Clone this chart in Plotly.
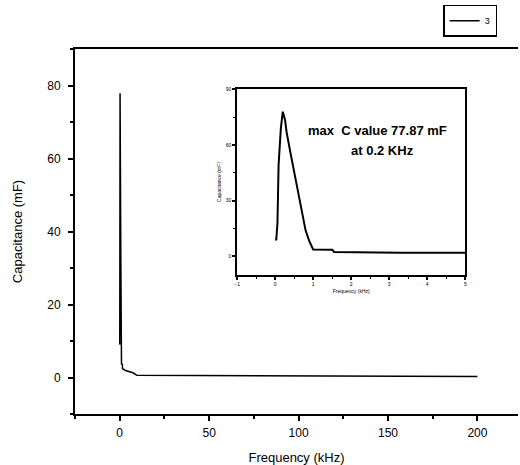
import plotly.graph_objects as go

# ---- data (frequency in kHz, capacitance in mF) ----
freq_khz = [0.0, 0.03, 0.06, 0.09, 0.15, 0.2, 0.26, 0.3, 0.4, 0.5, 0.6, 0.7, 0.8, 0.9, 1.0, 1.5, 1.55,
            3.3, 7.4, 9.6, 65.0, 200.0]
cap_mf = [9.0, 9.1, 17.7, 49.3, 69.0, 77.87, 73.4, 67.0, 56.0, 45.0, 34.0, 24.0, 14.0, 8.0, 3.7, 3.5, 2.4,
          1.9, 1.3, 0.6, 0.5, 0.3]

main_xticks = [0, 50, 100, 150, 200]
main_yticks = [0, 20, 40, 60, 80]
inset_xticks = [-1, 0, 1, 2, 3, 4, 5]
inset_yticks = [0, 30, 60, 90]
legend_name = "3"
note_line1 = "max  C value 77.87 mF"
note_line2 = "at 0.2 KHz"

FONT = "Liberation Sans, Arial, sans-serif"

fig = go.Figure()
fig.add_trace(go.Scatter(x=freq_khz, y=cap_mf, mode="lines", name=legend_name,
                         line=dict(color="black", width=1.5), xaxis="x", yaxis="y"))
fig.add_trace(go.Scatter(x=freq_khz, y=cap_mf, mode="lines", showlegend=False,
                         line=dict(color="black", width=2), xaxis="x2", yaxis="y2"))

axis_common = dict(showgrid=False, zeroline=False, showline=True, linecolor="black",
                   ticks="outside", tickcolor="black", tickwidth=1.5)

fig.update_layout(
    width=520, height=465,
    margin=dict(l=75, r=0, t=49, b=51),
    paper_bgcolor="white", plot_bgcolor="white",
    font=dict(family=FONT, color="black"),
    xaxis=dict(**axis_common, domain=[0, 1], range=[-25, 222.7], linewidth=1.8, mirror=True,
               tickvals=main_xticks, ticklen=5, tickfont=dict(size=12), ticklabelstandoff=2,
               minor=dict(dtick=25, tick0=25, ticks="outside", ticklen=3, tickcolor="black", tickwidth=1.5),
               title=dict(text="Frequency (kHz)", font=dict(size=13), standoff=14)),
    yaxis=dict(**axis_common, domain=[0, 1], range=[-10, 90], linewidth=1.8,
               tickvals=main_yticks, ticklen=5, tickfont=dict(size=12), ticklabelstandoff=5,
               minor=dict(dtick=10, tick0=10, ticks="outside", ticklen=3, tickcolor="black", tickwidth=1.5),
               title=dict(text="Capacitance (mF)", font=dict(size=13), standoff=22)),
    xaxis2=dict(**axis_common, domain=[0.366, 0.881], anchor="y2", range=[-1, 5], linewidth=1.5, mirror=True,
                tickvals=inset_xticks, ticklen=3, tickfont=dict(size=5),
                minor=dict(dtick=0.5, tick0=0.5, ticks="outside", ticklen=2, tickcolor="black", tickwidth=1.2),
                title=dict(text="Frequency (kHz)", font=dict(size=5), standoff=4)),
    yaxis2=dict(**axis_common, domain=[0.381, 0.890], anchor="x2", range=[-10, 90], linewidth=1.5, mirror=True,
                tickvals=inset_yticks, ticklen=3, tickfont=dict(size=5),
                minor=dict(dtick=15, tick0=15, ticks="outside", ticklen=2, tickcolor="black", tickwidth=1.2),
                title=dict(text="Capacitance (mF)", font=dict(size=5), standoff=4)),
    legend=dict(x=0.831, y=1.121, xanchor="left", yanchor="top", bordercolor="black", borderwidth=1.5,
                bgcolor="white", font=dict(size=9), itemwidth=30, tracegroupgap=0),
    annotations=[
        dict(text="<b>" + note_line1 + "</b>", xref="paper", yref="paper", x=0.683, y=0.778,
             xanchor="center", yanchor="middle", showarrow=False, font=dict(size=13)),
        dict(text="<b>" + note_line2 + "</b>", xref="paper", yref="paper", x=0.694, y=0.723,
             xanchor="center", yanchor="middle", showarrow=False, font=dict(size=13)),
    ],
)

fig.write_html("out.html")
